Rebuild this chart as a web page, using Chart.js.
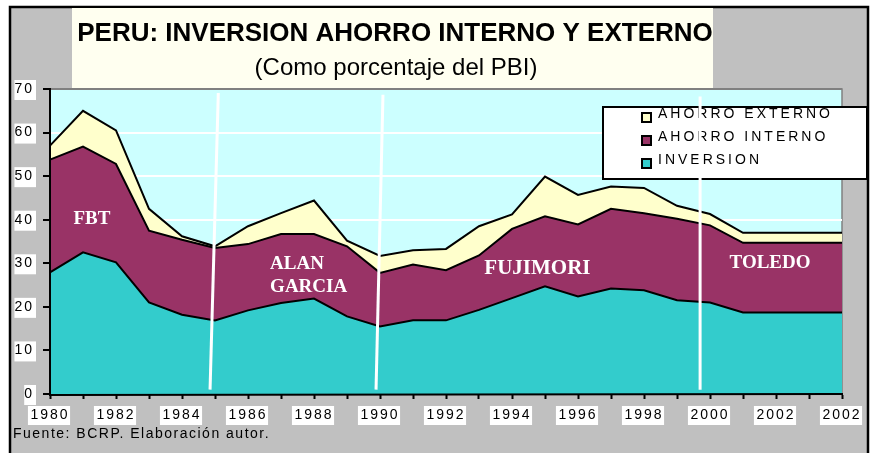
<!DOCTYPE html>
<html><head><meta charset="utf-8">
<script src="https://cdn.jsdelivr.net/npm/chart.js@4"></script>
<style>html,body{margin:0;padding:0;background:#ffffff}canvas{display:block}</style>
</head><body>
<canvas id="c" width="873" height="453"></canvas>
<script>
// ---- data ----
const years = [1980,1981,1982,1983,1984,1985,1986,1987,1988,1989,1990,1991,1992,1993,1994,1995,1996,1997,1998,1999,2000,2001,2002,2003,2004];
const xTickLabels = ['1980','1982','1984','1986','1988','1990','1992','1994','1996','1998','2000','2002','2002'];
const yTickLabels = ['0','10','20','30','40','50','60','70'];
const inversion     = [27.9,32.5,30.2,21.0,18.2,16.9,19.2,20.9,21.9,17.8,15.5,16.9,16.9,19.3,22.0,24.7,22.4,24.2,23.8,21.5,21.0,18.7,18.7,18.7,18.7];
const ahorroInterno = [25.9,24.3,22.6,16.5,17.2,16.6,15.2,15.8,14.8,16.1,12.3,12.8,11.5,12.5,15.9,16.1,16.5,18.3,17.7,18.7,17.7,16.0,16.0,16.0,16.0];
const ahorroExterno = [3.2,8.2,7.7,5.0,0.8,0.4,4.1,4.8,7.7,1.3,3.9,3.3,4.9,6.7,3.3,9.1,6.8,5.1,5.8,3.0,2.6,2.3,2.3,2.3,2.3];
const seriesNames = ['INVERSION','AHORRO INTERNO','AHORRO EXTERNO'];
const periodNames = ['FBT','ALAN','GARCIA','FUJIMORI','TOLEDO'];
const titleText = 'PERU: INVERSION AHORRO INTERNO Y EXTERNO';
const subtitleText = '(Como porcentaje del PBI)';
const sourceText = 'Fuente: BCRP. Elaboración autor.';

const COLORS = ['#33cccc','#993366','#ffffcc'];
const AXIS_SPACING = '2px';
const AXIS_FONT = '14px "Liberation Sans", Arial, sans-serif';

const deco = {
  id: 'deco',
  beforeUpdate(chart){ chart.ctx.letterSpacing = AXIS_SPACING; },
  beforeDraw(chart){
    const ctx = chart.ctx, a = chart.chartArea;
    const xs = chart.scales.x, ys = chart.scales.y;
    ctx.save();
    ctx.letterSpacing = '0px';
    ctx.fillStyle = '#ffffff'; ctx.fillRect(0,0,873,453);
    ctx.fillStyle = '#c0c0c0'; ctx.fillRect(10,7,858,460);
    ctx.strokeStyle = '#000'; ctx.lineWidth = 2.5; ctx.strokeRect(10,7,858,470);
    // title box
    ctx.fillStyle = '#fffff0'; ctx.fillRect(72,8,641,80);
    ctx.fillStyle = '#000'; ctx.textAlign = 'center'; ctx.textBaseline = 'alphabetic';
    ctx.font = 'bold 26px "Liberation Sans", Arial, sans-serif';
    ctx.fillText(titleText, 395, 41);
    ctx.font = '24px "Liberation Sans", Arial, sans-serif';
    ctx.fillText(subtitleText, 396, 75);
    // plot background
    ctx.fillStyle = '#ccffff'; ctx.fillRect(a.left, a.top, a.right-a.left, a.bottom-a.top);
    ctx.strokeStyle = '#808080'; ctx.lineWidth = 1.5;
    ctx.strokeRect(a.left, a.top, a.right-a.left, a.bottom-a.top);
    // white boxes behind tick labels
    ctx.letterSpacing = AXIS_SPACING;
    ctx.font = AXIS_FONT;
    ctx.fillStyle = '#ffffff';
    ys.ticks.forEach((t, k) => {
      const lbl = yTickLabels[Math.round(t.value/10)];
      const w = ctx.measureText(lbl).width + 2;
      const py = ys.getPixelForValue(t.value);
      ctx.fillRect(36 - w, py - 9, w, 20);
    });
    xTickLabels.forEach((lbl, k) => {
      const w = ctx.measureText(lbl).width + 3;
      const px = xs.getPixelForValue(k*2);
      ctx.fillRect(px - 1 - w/2, 406, w, 19);
    });
    // source
    ctx.letterSpacing = '1.5px';
    ctx.textAlign = 'left'; ctx.fillStyle = '#000';
    ctx.font = '14px "Liberation Sans", Arial, sans-serif';
    ctx.fillText(sourceText, 13, 438);
    ctx.restore();
    ctx.letterSpacing = AXIS_SPACING;
  },
  afterDatasetsDraw(chart){
    const ctx = chart.ctx, a = chart.chartArea;
    const xs = chart.scales.x, ys = chart.scales.y;
    ctx.save();
    ctx.letterSpacing = '0px';
    // axis lines on top of areas
    ctx.strokeStyle = '#000'; ctx.lineWidth = 2;
    ctx.beginPath();
    ctx.moveTo(a.left, a.top); ctx.lineTo(a.left, a.bottom+1); ctx.lineTo(a.right+1, a.bottom);
    ctx.stroke();
    // period labels
    ctx.fillStyle = '#ffffff'; ctx.textBaseline = 'middle';
    const lab = [
      {t: periodNames[0], i: 1.27, v: 40.2, al: 'center', s: 19},
      {t: periodNames[1], i: 6.67, v: 29.7, al: 'left', s: 19},
      {t: periodNames[2], i: 6.67, v: 24.6, al: 'left', s: 19},
      {t: periodNames[3], i: 14.77, v: 28.8, al: 'center', s: 21},
      {t: periodNames[4], i: 21.82, v: 30.0, al: 'center', s: 19}
    ];
    lab.forEach(l => {
      ctx.font = 'bold ' + l.s + 'px "Liberation Serif", "Times New Roman", serif';
      ctx.textAlign = l.al;
      ctx.fillText(l.t, xs.getPixelForValue(l.i), ys.getPixelForValue(l.v));
    });
    // legend
    ctx.fillStyle = '#ffffff'; ctx.fillRect(603,107,264,72);
    ctx.strokeStyle = '#000'; ctx.lineWidth = 2; ctx.strokeRect(603,107,264,72);
    ctx.letterSpacing = '3px';
    ctx.font = '14px "Liberation Sans", Arial, sans-serif';
    ctx.textAlign = 'left'; ctx.textBaseline = 'middle';
    const rows = [2,1,0];
    rows.forEach((k, r) => {
      const cy = 117.5 + r*23;
      ctx.fillStyle = COLORS[k]; ctx.fillRect(642, cy-4.5, 9, 9);
      ctx.strokeStyle = '#000'; ctx.lineWidth = 2; ctx.strokeRect(642, cy-4.5, 9, 9);
      ctx.fillStyle = '#000';
      ctx.fillText(seriesNames[k], 658, cy - 3.5);
    });
    // white dividers
    ctx.strokeStyle = '#ffffff'; ctx.lineWidth = 3;
    const div = [[5.10,69.1,4.85,1.0],[10.09,68.7,9.88,1.0],[19.70,68.3,19.70,1.0]];
    div.forEach(d => {
      ctx.beginPath();
      ctx.moveTo(xs.getPixelForValue(d[0]), ys.getPixelForValue(d[1]));
      ctx.lineTo(xs.getPixelForValue(d[2]), ys.getPixelForValue(d[3]));
      ctx.stroke();
    });
    ctx.restore();
  }
};

const common = {pointRadius:0, borderColor:'#000', borderWidth:2, tension:0};
new Chart(document.getElementById('c'), {
  type: 'line',
  data: {
    labels: years,
    datasets: [
      Object.assign({label: seriesNames[0], data: inversion, backgroundColor: COLORS[0], fill: 'origin'}, common),
      Object.assign({label: seriesNames[1], data: ahorroInterno, backgroundColor: COLORS[1], fill: '-1'}, common),
      Object.assign({label: seriesNames[2], data: ahorroExterno, backgroundColor: COLORS[2], fill: '-1'}, common)
    ]
  },
  options: {
    responsive: false, animation: false, devicePixelRatio: 1,
    layout: {padding: {top: 89, left: 0, right: 31, bottom: 0}},
    plugins: {legend: {display: false}, tooltip: {enabled: false}, title: {display: false}},
    scales: {
      x: {
        type: 'category', offset: false,
        afterFit(s){ s.height = 59; },
        grid: {drawOnChartArea: false, drawTicks: true, tickLength: 5, tickColor: '#000', tickWidth: 2},
        border: {display: true, color: '#000', width: 2},
        ticks: {
          autoSkip: false, maxRotation: 0, minRotation: 0, padding: 8,
          callback: (v, i) => (i % 2 === 0 ? xTickLabels[i/2] : ''),
          color: '#000', font: {family: '"Liberation Sans", Arial, sans-serif', size: 14}
        }
      },
      y: {
        stacked: true, min: 0, max: 70,
        afterFit(s){ s.width = 50; },
        grid: {
          color: (c) => (c.tick && c.tick.value === 70 ? '#808080' : '#ffffff'),
          lineWidth: 2, drawTicks: true, tickLength: 7, tickColor: '#000', tickWidth: 2
        },
        border: {display: true, color: '#000', width: 2},
        ticks: {
          stepSize: 10, padding: 9,
          callback: (v) => yTickLabels[Math.round(v/10)],
          color: '#000', font: {family: '"Liberation Sans", Arial, sans-serif', size: 14}
        }
      }
    }
  },
  plugins: [deco]
});
</script>
</body></html>
